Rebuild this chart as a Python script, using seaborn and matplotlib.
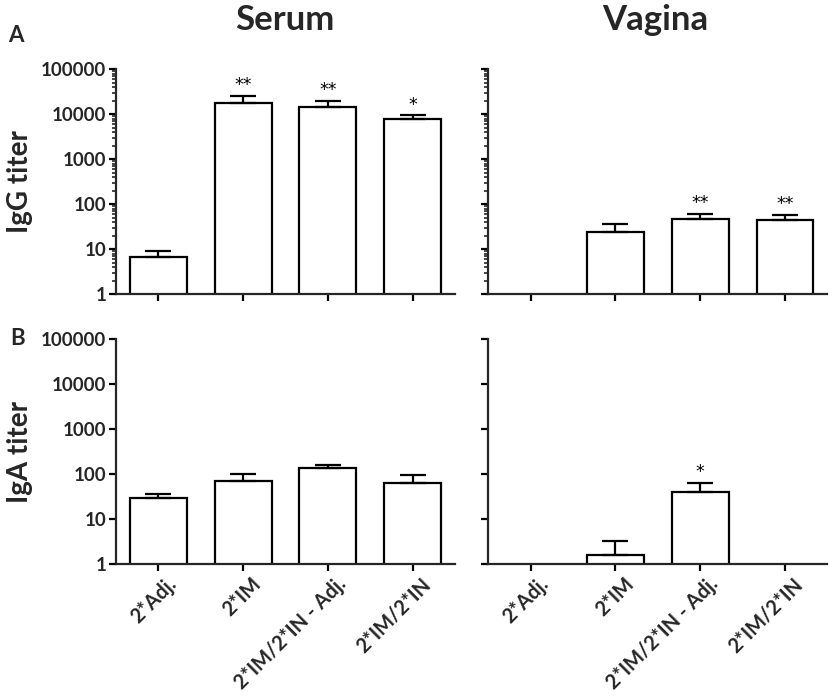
import numpy as np
import pandas as pd
import matplotlib
matplotlib.use("Agg")
import matplotlib.pyplot as plt
import matplotlib.ticker as mticker
import matplotlib.transforms as mtransforms
import seaborn as sns

categories = ["2*Adj.", "2*IM", "2*IM/2*IN - Adj.", "2*IM/2*IN"]

serum_igg = [6.9, 18000, 14500, 7700]
serum_igg_err = [2.2, 8000, 5500, 1800]
serum_igg_sig = ["", "**", "**", "*"]

vagina_igg = [np.nan, 24, 47, 44]
vagina_igg_err = [np.nan, 12, 14, 14]
vagina_igg_sig = ["", "", "**", "**"]

serum_iga = [29, 72, 140, 65]
serum_iga_err = [7, 28, 22, 31]
serum_iga_sig = ["", "", "", ""]

vagina_iga = [np.nan, 1.63, 41, np.nan]
vagina_iga_err = [np.nan, 1.7, 23, np.nan]
vagina_iga_sig = ["", "", "*", ""]

y_ticks = [1, 10, 100, 1000, 10000, 100000]
y_tick_labels = ["1", "10", "100", "1000", "10000", "100000"]

sns.set_style("ticks")
plt.rcParams["font.family"] = ["Lato", "DejaVu Sans"]
plt.rcParams["axes.linewidth"] = 1.6

fig = plt.figure(figsize=(8.35, 7.0), dpi=100)

W = 339 / 835
H = 225 / 700
lefts = [116 / 835, 488.3 / 835]
bottoms = [1 - 294.3 / 700, 1 - 564.3 / 700]

panels = [
    (serum_igg, serum_igg_err, serum_igg_sig, 0, 0),
    (vagina_igg, vagina_igg_err, vagina_igg_sig, 0, 1),
    (serum_iga, serum_iga_err, serum_iga_sig, 1, 0),
    (vagina_iga, vagina_iga_err, vagina_iga_sig, 1, 1),
]

axes = {}
for vals, errs, sigs, r, c in panels:
    ax = fig.add_axes([lefts[c], bottoms[r], W, H])
    axes[(r, c)] = ax
    df = pd.DataFrame({"group": categories, "titer": vals})
    sns.barplot(data=df, x="group", y="titer", order=categories, color="white",
                edgecolor="black", linewidth=1.6, width=0.67, errorbar=None,
                ax=ax, saturation=1)
    ax.set_yscale("log")
    xs = np.arange(len(categories))
    v = np.array(vals, dtype=float)
    e = np.array(errs, dtype=float)
    m = ~np.isnan(v)
    ax.errorbar(xs[m], v[m], yerr=[np.zeros(m.sum()), e[m]], fmt="none",
                ecolor="black", elinewidth=1.6, capsize=9.5, capthick=1.6, zorder=3)
    for x, val, err, s in zip(xs, v, e, sigs):
        if s:
            ax.annotate(s, (x, val + err), xytext=(0, 4), textcoords="offset points",
                        ha="center", va="baseline", fontsize=12.5, color="black",
                        family=["DejaVu Sans"])
    ax.set_ylim(1, 100000)
    ax.set_xlim(-0.5, 3.5)
    ax.yaxis.set_major_locator(mticker.FixedLocator(y_ticks))
    ax.yaxis.set_minor_locator(mticker.LogLocator(base=10, subs=np.arange(2, 10)))
    ax.yaxis.set_minor_formatter(mticker.NullFormatter())
    if c == 0:
        ax.yaxis.set_major_formatter(mticker.FixedFormatter(y_tick_labels))
    else:
        ax.yaxis.set_major_formatter(mticker.NullFormatter())
    sns.despine(ax=ax)
    ax.tick_params(axis="both", which="major", direction="out", length=5, width=1.6,
                   labelsize=13.5, pad=2, color="black")
    ax.tick_params(axis="y", which="minor", direction="out", length=3, width=1.2)
    ax.set_xlabel("")
    ax.set_ylabel("")
    for lab in ax.get_yticklabels():
        lab.set_fontweight("bold")
    ax.set_xticks(xs)
    if r == 1:
        ax.set_xticklabels(categories, rotation=45, ha="right", va="top",
                           rotation_mode="anchor", fontsize=14.5, fontweight="bold")
        offset = mtransforms.ScaledTranslation(8 / 100, 0, fig.dpi_scale_trans)
        for lab in ax.get_xticklabels():
            lab.set_transform(lab.get_transform() + offset)
    else:
        ax.set_xticklabels([])

axes[(0, 0)].set_ylabel("IgG titer", fontsize=20, fontweight="bold", labelpad=6)
axes[(1, 0)].set_ylabel("IgA titer", fontsize=20, fontweight="bold", labelpad=6)

fig.text(285 / 835, 1 - 20 / 700, "Serum", ha="center", va="center",
         fontsize=25, fontweight="bold")
fig.text(655 / 835, 1 - 20 / 700, "Vagina", ha="center", va="center",
         fontsize=25, fontweight="bold")
fig.text(16 / 835, 1 - 36 / 700, "A", ha="center", va="center",
         fontsize=16, fontweight="bold")
fig.text(18 / 835, 1 - 339 / 700, "B", ha="center", va="center",
         fontsize=16, fontweight="bold")

fig.savefig("out.png", dpi=100, facecolor="white")
